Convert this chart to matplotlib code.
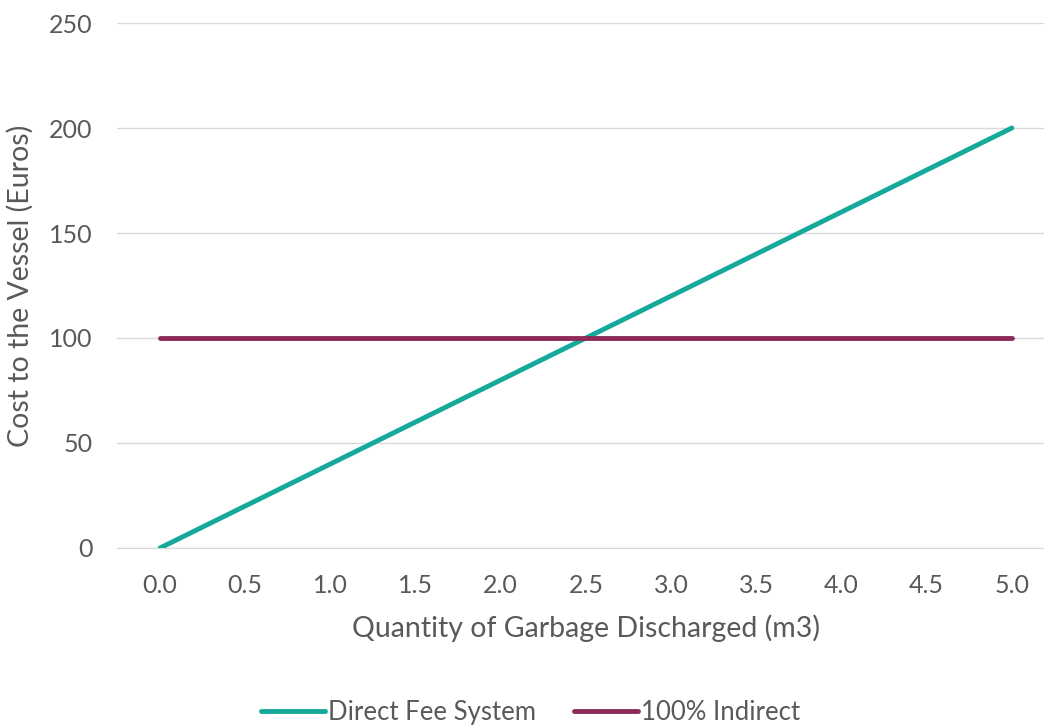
import matplotlib
matplotlib.use("Agg")
import matplotlib.pyplot as plt

plt.rcParams['font.family'] = ['Lato', 'DejaVu Sans']

quantities = ["0.0", "0.5", "1.0", "1.5", "2.0", "2.5", "3.0", "3.5", "4.0", "4.5", "5.0"]
direct_fee = [0, 20, 40, 60, 80, 100, 120, 140, 160, 180, 200]
indirect = [100, 100, 100, 100, 100, 100, 100, 100, 100, 100, 100]

teal = "#14A99A"
maroon = "#8E2A5A"
grey = "#595959"

fig = plt.figure(figsize=(10.44, 7.26), dpi=100)
ax = fig.add_axes([0.1125, 0.2452, 0.8975, 0.7231])

pos = list(range(len(quantities)))
ax.plot(pos, direct_fee, color=teal, linewidth=3.5, label="Direct Fee System", solid_capstyle="round")
ax.plot(pos, indirect, color=maroon, linewidth=3.5, label="100% Indirect", solid_capstyle="round")

ax.set_xlim(-0.5, len(quantities) - 0.5)
ax.set_ylim(0, 250)
ax.set_yticks([0, 50, 100, 150, 200, 250])
ax.set_xticks(pos)
ax.set_xticklabels(quantities)

ax.grid(axis='y', color="#D9D9D9", linewidth=1)
ax.set_axisbelow(True)
for side in ['top', 'right', 'left']:
    ax.spines[side].set_visible(False)
ax.spines['bottom'].set_color("#D9D9D9")
ax.tick_params(length=0, labelsize=18, colors=grey, pad=19)
ax.tick_params(axis='y', pad=18)

ax.set_xlabel("Quantity of Garbage Discharged (m3)", fontsize=20.5, color=grey, labelpad=12)
ax.set_ylabel("Cost to the Vessel (Euros)", fontsize=20.5, color=grey, labelpad=11)

leg = fig.legend(loc='center', bbox_to_anchor=(0.508, 0.018), ncol=2, frameon=False,
                 fontsize=18.5, handlelength=2.5, handletextpad=0.1, columnspacing=1.5)
for t in leg.get_texts():
    t.set_color(grey)

fig.savefig("out.png", dpi=100)
